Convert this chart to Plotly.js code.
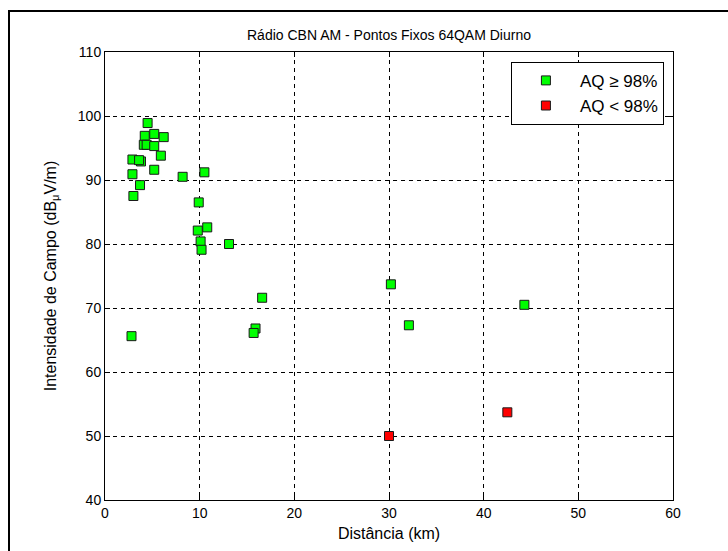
<!DOCTYPE html>
<html>
<head>
<meta charset="utf-8">
<script src="https://cdn.plot.ly/plotly-3.0.1.min.js"></script>
<style>
  html, body { margin: 0; padding: 0; background: #fff; }
  #wrap { position: relative; width: 728px; height: 551px; overflow: hidden; }
  #chart { width: 728px; height: 551px; }
  #frame { position: absolute; left: 8px; top: 10px; width: 740px; height: 560px;
           border-top: 2px solid #000; border-left: 2px solid #000; pointer-events: none; }
</style>
</head>
<body>
<div id="wrap">
  <div id="chart"></div>
  <div id="frame"></div>
</div>
<script>
// Data
const okDist = [4.5, 4.2, 5.2, 6.2, 4.1, 4.4, 5.2, 5.9, 2.9, 3.8, 3.6, 5.2, 8.2, 10.5, 2.9, 3.7, 3.0, 9.9, 10.8, 9.8, 10.1, 10.2, 13.1, 16.6, 15.9, 15.7, 30.2, 44.3, 32.1, 2.8];
const okField = [98.9, 96.9, 97.2, 96.7, 95.5, 95.5, 95.3, 93.8, 93.2, 92.9, 93.1, 91.6, 90.5, 91.2, 90.9, 89.2, 87.5, 86.5, 82.6, 82.1, 80.4, 79.1, 80.0, 71.6, 66.8, 66.1, 73.7, 70.5, 67.3, 65.6];
const badDist = [30.0, 42.5];
const badField = [50.0, 53.7];
const seriesNames = ['AQ \u2265 98%', 'AQ < 98%'];
const xTicks = [0, 10, 20, 30, 40, 50, 60];
const yTicks = [40, 50, 60, 70, 80, 90, 100, 110];

const fam = 'Liberation Sans, Arial, sans-serif';
const tickFont = { family: fam, size: 14, color: '#000' };
const titleFont = { family: fam, size: 14, color: '#000' };
const axisTitleFont = { family: fam, size: 16, color: '#000' };

const traces = [
  { x: okDist, y: okField, name: seriesNames[0], type: 'scatter', mode: 'markers',
    marker: { symbol: 'square', size: 9, color: '#00ff00', line: { color: '#1a1a1a', width: 1 } } },
  { x: badDist, y: badField, name: seriesNames[1], type: 'scatter', mode: 'markers',
    marker: { symbol: 'square', size: 9, color: '#ff0000', line: { color: '#1a1a1a', width: 1 } } }
];

const axisCommon = {
  showline: true, linecolor: '#000', linewidth: 1, mirror: 'ticks',
  ticks: 'inside', ticklen: 5, tickcolor: '#000', tickwidth: 1,
  showgrid: true, gridcolor: '#000', gridwidth: 1, griddash: '4px,4px',
  zeroline: false, tickfont: tickFont
};

const layout = {
  width: 728, height: 551,
  margin: { l: 105, r: 55, t: 52, b: 51 },
  paper_bgcolor: '#fff', plot_bgcolor: '#fff',
  font: tickFont,
  title: { text: 'Rádio CBN AM - Pontos Fixos 64QAM Diurno', font: titleFont,
           x: 0.5, xref: 'paper', y: 1 - 35 / 551, yref: 'container', yanchor: 'middle' },
  xaxis: Object.assign({}, axisCommon, {
    range: [0, 60], tickvals: xTicks, ticktext: xTicks.map(String),
    title: { text: 'Distância (km)', font: axisTitleFont, standoff: 8 }
  }),
  yaxis: Object.assign({}, axisCommon, {
    range: [40, 110], tickvals: yTicks, ticktext: yTicks.map(String),
    title: { text: 'Intensidade de Campo (dB<sub>\u03bc</sub>V/m)', font: axisTitleFont, standoff: 17 }
  }),
  showlegend: true,
  legend: {
    x: 0.984, xanchor: 'right', y: 0.978, yanchor: 'top',
    bgcolor: '#fff', bordercolor: '#000', borderwidth: 1,
    font: { family: fam, size: 17, color: '#000' },
    itemwidth: 58
  }
};

Plotly.newPlot('chart', traces, layout, { staticPlot: true, displayModeBar: false });
</script>
</body>
</html>
